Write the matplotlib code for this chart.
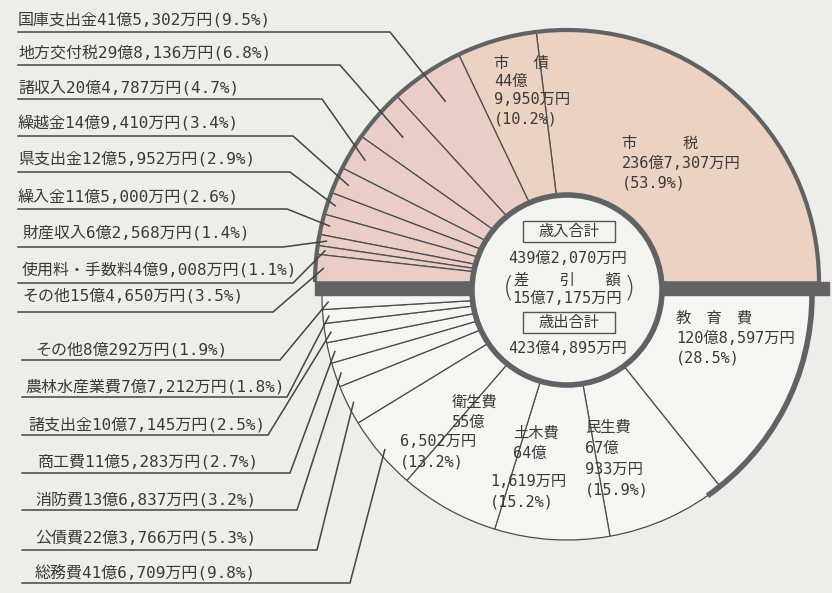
import numpy as np
import matplotlib.pyplot as plt
from matplotlib.patches import Arc, Circle, Rectangle

plt.rcParams['font.family'] = ['DejaVu Sans Mono', 'Noto Sans CJK JP']

# 歳入 (revenue), amounts in 万円, counter-clockwise from the right
rev_names = ['市税', '市債', '国庫支出金', '地方交付税', '諸収入', '繰越金',
             '県支出金', '繰入金', '財産収入', '使用料・手数料', 'その他']
rev_amounts = [2367307, 449950, 415302, 298136, 204787, 149410,
               125952, 115000, 62568, 49008, 154650]
rev_pct = [53.9, 10.2, 9.5, 6.8, 4.7, 3.4, 2.9, 2.6, 1.4, 1.1, 3.5]

# 歳出 (expenditure), clockwise from the right
exp_names = ['教育費', '民生費', '土木費', '衛生費', '総務費', '公債費',
             '消防費', '商工費', '諸支出金', '農林水産業費', 'その他']
exp_amounts = [1208597, 670933, 641619, 556502, 416709, 223766,
               136837, 115283, 107145, 77212, 80292]
exp_pct = [28.5, 15.9, 15.2, 13.2, 9.8, 5.3, 3.2, 2.7, 2.5, 1.8, 1.9]

rev_total = 4392070
exp_total = 4234895

INK = '#3a3a3a'
EDGE = '#4d4d4d'
DARK = '#626264'
BG = '#edede9'


def yen(v):
    oku, man = divmod(v, 10000)
    return f'{oku}億{man:,}万円'


fig = plt.figure(figsize=(8.32, 5.93), dpi=100, facecolor=BG)
ax = fig.add_axes([0, 0, 1, 1])
ax.set_facecolor(BG)

cx = 567
cy_rev, r_rev = 282, 252
cy_exp, r_exp = 295, 245
r_in = 95

rev_frac = [a / rev_total / 2 for a in rev_amounts]
exp_frac = [a / exp_total / 2 for a in exp_amounts]

rev_colors = ['#ebd2c3'] * 2 + ['#e9cdc6'] * 9
rev_wedges, _ = ax.pie(rev_frac, center=(cx, cy_rev), radius=r_rev, startangle=0,
                       counterclock=False, normalize=False, colors=rev_colors,
                       wedgeprops=dict(edgecolor=EDGE, linewidth=0.9))
exp_wedges, _ = ax.pie(exp_frac, center=(cx, cy_exp), radius=r_exp, startangle=0,
                       counterclock=True, normalize=False, colors=['#f5f5f2'] * 11,
                       wedgeprops=dict(edgecolor=EDGE, linewidth=0.9))

ax.set_xlim(0, 832)
ax.set_ylim(593, 0)
ax.set_aspect('equal')
ax.axis('off')

# heavy outlines and the dividing band
ax.add_patch(Arc((cx, cy_rev), 2 * r_rev, 2 * r_rev, theta1=180, theta2=360,
                 lw=3.0, color=DARK, zorder=3))
ax.add_patch(Arc((cx, cy_exp), 2 * r_exp, 2 * r_exp, theta1=0, theta2=55,
                 lw=4, color=DARK, zorder=3))
ax.add_patch(Rectangle((cx - r_rev, cy_rev), 2 * r_rev + 10, cy_exp - cy_rev,
                       color=DARK, zorder=3))
ax.add_patch(Circle((cx, 290), r_in, facecolor='#f3f3f0', edgecolor=DARK,
                    lw=4, zorder=4))


def mid_point(w, inset):
    t = np.deg2rad((w.theta1 + w.theta2) / 2)
    rr = w.r - inset
    return w.center[0] + rr * np.cos(t), w.center[1] + rr * np.sin(t)


def leader(text, tx, ty, line_y, x0, elbow_x, wedge, inset):
    ax.text(tx, ty, text, fontsize=11.5, color=INK, va='center', ha='left', zorder=6)
    px, py = mid_point(wedge, inset)
    ax.plot([x0, elbow_x, px], [line_y, line_y, py], color='#444444', lw=1.1,
            solid_joinstyle='miter', zorder=5)


# revenue labels on the left, top to bottom = wedges 2..10
rev_label_y = [20, 53, 88, 123, 159, 197, 233, 270, 296]
rev_line_y = [32, 65, 99, 136, 172, 209, 247, 283, 312]
rev_elbow_x = [390, 340, 322, 293, 290, 287, 283, 293, 273]
rev_text_x = [18, 18, 18, 18, 18, 18, 22, 22, 22]
rev_inset = [34, 33, 16, 13, 8, 8, 8, 8, 8]
for k, i in enumerate(range(2, 11)):
    label = f'{rev_names[i]}{yen(rev_amounts[i])}({rev_pct[i]}%)'
    leader(label, rev_text_x[k], rev_label_y[k], rev_line_y[k], 18,
           rev_elbow_x[k], rev_wedges[i], rev_inset[k])

# expenditure labels, top to bottom = wedges 10..4
exp_label_y = [350, 387, 425, 462, 500, 538, 573]
exp_line_y = [360, 397, 435, 473, 510, 550, 583]
exp_elbow_x = [280, 287, 268, 290, 297, 317, 350]
exp_text_x = [35, 25, 28, 38, 35, 35, 35]
for k, i in enumerate(range(10, 3, -1)):
    label = f'{exp_names[i]}{yen(exp_amounts[i])}({exp_pct[i]}%)'
    leader(label, exp_text_x[k], exp_label_y[k], exp_line_y[k], 22,
           exp_elbow_x[k], exp_wedges[i], 6)


def block(lines, x, y0, step):
    for j, s in enumerate(lines):
        ax.text(x, y0 + j * step, s, fontsize=11, color=INK, va='center',
                ha='left', zorder=6)


block(['市　　　税', yen(rev_amounts[0]), f'({rev_pct[0]}%)'], 622, 143, 20)
oku, man = divmod(rev_amounts[1], 10000)
block(['市　 債', f'{oku}億', f'{man:,}万円', f'({rev_pct[1]}%)'], 494, 63, 18.5)
block(['教　育　費', yen(exp_amounts[0]), f'({exp_pct[0]}%)'], 676, 318, 20)
oku, man = divmod(exp_amounts[1], 10000)
block(['民生費', f'{oku}億', f'{man:,}万円', f'({exp_pct[1]}%)'], 585, 427, 21)
oku, man = divmod(exp_amounts[2], 10000)
block(['土木費', f'{oku}億'], 513, 433, 20)
block([f'{man:,}万円', f'({exp_pct[2]}%)'], 490, 482, 20)
oku, man = divmod(exp_amounts[3], 10000)
block(['衛生費', f'{oku}億'], 452, 402, 20)
block([f'{man:,}万円', f'({exp_pct[3]}%)'], 400, 442, 20)

# centre summary
for ry, title in [(221, '歳入合計'), (312, '歳出合計')]:
    ax.add_patch(Rectangle((523, ry), 92, 21, fill=False, edgecolor='#555555',
                           lw=1, zorder=5))
    ax.text(569, ry + 10.5, title, fontsize=11, color=INK, ha='center',
            va='center', zorder=6)
ax.text(568, 258, yen(rev_total), fontsize=11, color=INK, ha='center', va='center', zorder=6)
ax.text(567, 280, '差　　引　　額', fontsize=11, color=INK, ha='center', va='center', zorder=6)
ax.text(567, 298, yen(rev_total - exp_total), fontsize=11, color=INK, ha='center',
        va='center', zorder=6)
ax.text(568, 348, yen(exp_total), fontsize=11, color=INK, ha='center', va='center', zorder=6)
for px, ch in [(509, '('), (629, ')')]:
    ax.text(px, 288, ch, fontsize=21, color='#444444', ha='center', va='center',
            family='DejaVu Sans', fontweight='light', zorder=6)

fig.savefig('out.png', dpi=100, facecolor=BG)
